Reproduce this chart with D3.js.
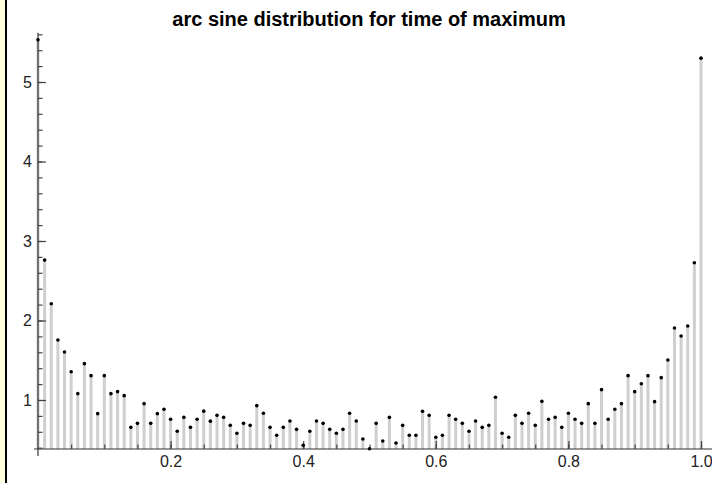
<!DOCTYPE html>
<html>
<head>
<meta charset="utf-8">
<script src="https://cdn.jsdelivr.net/npm/d3@7"></script>
<style>
  html, body { margin: 0; padding: 0; background: #fff; }
  svg { display: block; font-family: "Liberation Sans", Arial, sans-serif; }
</style>
</head>
<body>
<svg id="chart" width="712" height="483"></svg>
<script>
// relative frequency of the time of maximum, bins at 0, 0.01, ..., 1.0
const density = [
  5.53, 2.76, 2.21, 1.755, 1.604, 1.356, 1.080, 1.457, 1.306, 0.828,
  1.306, 1.080, 1.105, 1.055, 0.656, 0.706, 0.954, 0.706, 0.828, 0.883,
  0.757, 0.606, 0.782, 0.656, 0.757, 0.860, 0.734, 0.807, 0.782, 0.681,
  0.581, 0.706, 0.681, 0.929, 0.833, 0.656, 0.556, 0.656, 0.736, 0.631,
  0.430, 0.606, 0.736, 0.706, 0.631, 0.581, 0.631, 0.833, 0.736, 0.509,
  0.387, 0.706, 0.484, 0.782, 0.459, 0.681, 0.556, 0.556, 0.857, 0.807,
  0.531, 0.556, 0.807, 0.757, 0.706, 0.606, 0.736, 0.656, 0.681, 1.034,
  0.581, 0.531, 0.807, 0.706, 0.833, 0.681, 0.983, 0.757, 0.782, 0.656,
  0.833, 0.757, 0.706, 0.954, 0.706, 1.130, 0.757, 0.883, 0.954, 1.306,
  1.105, 1.205, 1.306, 0.979, 1.281, 1.503, 1.906, 1.805, 1.931, 2.727,
  5.30
];
const binStep = 0.01;
const xMajorTicks = [0.2, 0.4, 0.6, 0.8, 1.0];
const xMinorTicks = d3.range(0.05, 1.0001, 0.05);
const yMajorTicks = [1, 2, 3, 4, 5];
const yMinorTicks = d3.range(0.4, 5.61, 0.2);
const title = "arc sine distribution for time of maximum";

const svg = d3.select("#chart");

// left frame strip
svg.append("rect").attr("x", 0).attr("y", 0).attr("width", 5).attr("height", 483).attr("fill", "#ffffe0");
svg.append("rect").attr("x", 5).attr("y", 0).attr("width", 2).attr("height", 483).attr("fill", "#000");

const x = d3.scaleLinear().domain([0, 1]).range([38, 701]);
const y = d3.scaleLinear().domain([1, 5]).range([400, 82]);
const axisY = 449;                 // where the horizontal axis sits
const base = y.invert(axisY);

const points = density.map((v, i) => ({ t: i * binStep, v }));

// stems
svg.append("g")
  .selectAll("line")
  .data(points)
  .join("line")
  .attr("x1", d => x(d.t)).attr("x2", d => x(d.t))
  .attr("y1", y(base)).attr("y2", d => y(d.v))
  .attr("stroke", "#cfcfcf")
  .attr("stroke-width", 3);

// axes lines
const axisColor = "#333";
svg.append("line")
  .attr("x1", 34).attr("x2", 712).attr("y1", axisY).attr("y2", axisY)
  .attr("stroke", axisColor).attr("stroke-width", 1.2);
svg.append("line")
  .attr("x1", x(0)).attr("x2", x(0)).attr("y1", 456).attr("y2", y(5.62))
  .attr("stroke", axisColor).attr("stroke-width", 1.2);

// x ticks
const gx = svg.append("g").attr("transform", `translate(0,${axisY})`);
gx.call(d3.axisBottom(x).tickValues(xMinorTicks).tickSize(-4.5).tickFormat(""));
gx.call(g => g.select(".domain").remove());
const gx2 = svg.append("g").attr("transform", `translate(0,${axisY})`);
gx2.call(d3.axisBottom(x).tickValues(xMajorTicks).tickSize(-8).tickPadding(7).tickFormat(d3.format(".1f")));
gx2.call(g => g.select(".domain").remove());

// y ticks
const gy = svg.append("g").attr("transform", `translate(${x(0)},0)`);
gy.call(d3.axisLeft(y).tickValues(yMinorTicks).tickSize(-4.5).tickFormat(""));
gy.call(g => g.select(".domain").remove());
const gy2 = svg.append("g").attr("transform", `translate(${x(0)},0)`);
gy2.call(d3.axisLeft(y).tickValues(yMajorTicks).tickSize(-8).tickPadding(6).tickFormat(d3.format("d")));
gy2.call(g => g.select(".domain").remove());

svg.selectAll(".tick line").attr("stroke", "#444").attr("stroke-width", 1.2);
svg.selectAll(".tick text")
  .attr("fill", "#222")
  .style("font-family", "'Liberation Sans', Arial, sans-serif")
  .style("font-size", "16px");

// points
svg.append("g")
  .selectAll("circle")
  .data(points)
  .join("circle")
  .attr("cx", d => x(d.t))
  .attr("cy", d => y(d.v))
  .attr("r", 1.8)
  .attr("fill", "#000");

// title
svg.append("text")
  .attr("x", 369).attr("y", 26)
  .attr("text-anchor", "middle")
  .style("font-weight", "bold")
  .style("font-size", "20px")
  .attr("fill", "#000")
  .text(title);
</script>
</body>
</html>
